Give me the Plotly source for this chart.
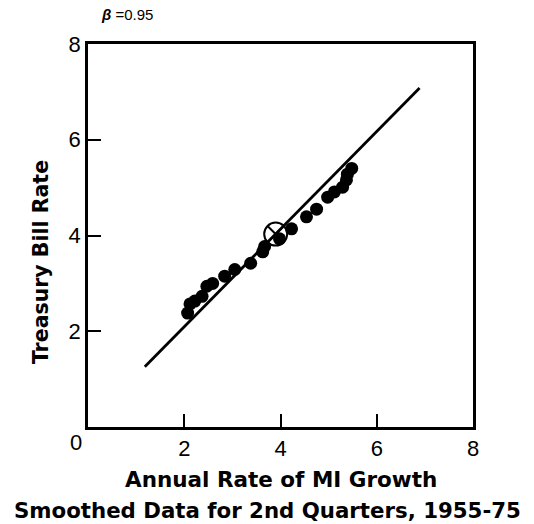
import plotly.graph_objects as go

# Smoothed data points (annual rate of M1 growth, treasury bill rate)
growth = [2.07, 2.12, 2.22, 2.37, 2.47, 2.59, 2.84, 3.05, 3.38, 3.63, 3.67,
          3.98, 4.23, 4.54, 4.75, 4.98, 5.12, 5.29, 5.37, 5.39, 5.48]
tbill = [2.38, 2.57, 2.63, 2.73, 2.94, 3.00, 3.15, 3.29, 3.42, 3.66, 3.77,
         3.93, 4.14, 4.39, 4.55, 4.80, 4.91, 5.01, 5.16, 5.28, 5.40]

# Fitted line endpoints
line_x = [1.18, 6.89]
line_y = [1.26, 7.08]

# Mean point
mean_x = [3.90]
mean_y = [4.03]

tick_vals = [2, 4, 6, 8]
tick_text = ["2", "4", "6", "8"]

font_tick = "Liberation Sans, Arial, sans-serif"
font_title = "DejaVu Sans, sans-serif"

fig = go.Figure()
fig.add_trace(go.Scatter(x=line_x, y=line_y, mode="lines",
                         line=dict(color="black", width=2.8), showlegend=False))
fig.add_trace(go.Scatter(x=growth, y=tbill, mode="markers",
                         marker=dict(color="black", size=13, line=dict(width=0)),
                         showlegend=False))
fig.add_trace(go.Scatter(x=mean_x, y=mean_y, mode="markers",
                         marker=dict(symbol="circle-x-open", color="black", size=23,
                                     line=dict(width=2, color="black")),
                         showlegend=False))

axis_common = dict(range=[0, 8], tickvals=tick_vals, ticktext=tick_text,
                   ticks="inside", ticklen=13, tickwidth=2, tickcolor="black",
                   showline=True, linecolor="black", linewidth=2.5, mirror=True,
                   showgrid=False, zeroline=False,
                   tickfont=dict(family=font_tick, size=22, color="black"))

fig.update_layout(
    width=534, height=524,
    margin=dict(l=88, r=61, t=44, b=97),
    paper_bgcolor="white", plot_bgcolor="white",
    xaxis=axis_common,
    yaxis=axis_common,
    annotations=[
        dict(x=0, y=0, xref="x", yref="y", text="0", showarrow=False,
             xshift=-12, yshift=-15, font=dict(family=font_tick, size=22, color="black")),
        dict(x=0.5, y=-0.138, xref="paper", yref="paper", text="<b>Annual Rate of MI Growth</b>",
             showarrow=False, yanchor="middle",
             font=dict(family=font_title, size=21.5, color="black")),
        dict(x=0.465, y=-0.219, xref="paper", yref="paper",
             text="<b>Smoothed Data for 2nd Quarters, 1955-75</b>",
             showarrow=False, yanchor="middle",
             font=dict(family=font_title, size=21.3, color="black")),
        dict(x=-0.12, y=0.43, xref="paper", yref="paper", text="<b>Treasury Bill Rate</b>",
             showarrow=False, textangle=-90, xanchor="center", yanchor="middle",
             font=dict(family=font_title, size=20.5, color="black")),
        dict(x=0.10, y=1.076, xref="paper", yref="paper", text="<b><i>β</i></b> =0.95",
             showarrow=False, xanchor="center", yanchor="middle",
             font=dict(family=font_tick, size=15, color="black")),
    ],
)

fig.write_html("out.html")
